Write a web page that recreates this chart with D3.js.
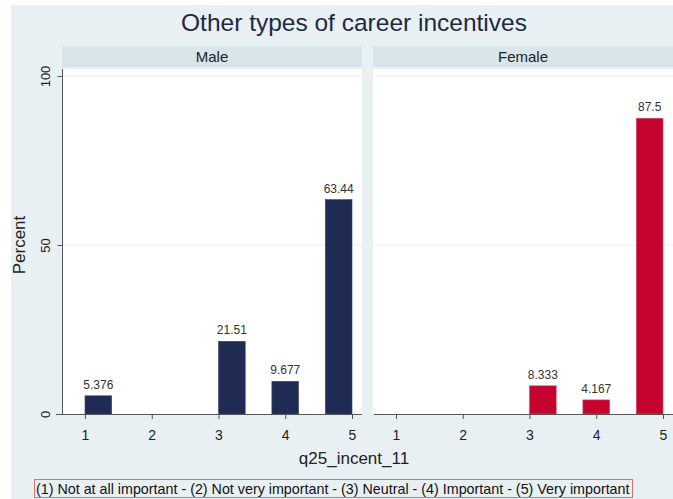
<!DOCTYPE html>
<html>
<head>
<meta charset="utf-8">
<script src="https://cdn.jsdelivr.net/npm/d3@7"></script>
<style>
  html, body { margin: 0; padding: 0; background: #ffffff; }
  svg { display: block; font-family: "Liberation Sans", Arial, sans-serif; }
</style>
</head>
<body>
<svg id="chart" width="673" height="499"></svg>
<script>
// ---- Data ----
const chartTitle = "Other types of career incentives";
const panelNames = ["Male", "Female"];
const categories = [1, 2, 3, 4, 5];
const maleValues = [5.376, 0, 21.51, 9.677, 63.44];
const femaleValues = [0, 0, 8.333, 4.167, 87.5];
const seriesValues = [maleValues, femaleValues];
const valueLabels = [["5.376", "", "21.51", "9.677", "63.44"], ["", "", "8.333", "4.167", "87.5"]];
const yTicks = [0, 50, 100];
const xTickLabels = ["1", "2", "3", "4", "5"];
const yTitle = "Percent";
const xTitle = "q25_incent_11";
const noteText = "(1) Not at all important - (2) Not very important - (3) Neutral - (4) Important - (5) Very important";
const nBins = 10;

// ---- Layout / style ----
const svg = d3.select("#chart");
const bgColor = "#e9f0f3";
const stripColor = "#d8e5eb";
const gridColor = "#e9f0f3";
const barColors = ["#1f2b53", "#c5032f"];
const axisColor = "#555555";

svg.append("rect").attr("x", 11).attr("y", 5).attr("width", 662).attr("height", 494).attr("fill", bgColor);

svg.append("text").attr("x", 354).attr("y", 31).attr("text-anchor", "middle")
  .attr("font-size", 24.5).attr("fill", "#1c2a44").text(chartTitle);

const panelX = [62, 373];
const panelW = 300;
const plotTop = 69, plotBottom = 414;
const y = d3.scaleLinear().domain([0, 100]).range([414, 76]);

panelNames.forEach((name, pi) => {
  const px = panelX[pi];
  const g = svg.append("g");
  // strip
  g.append("rect").attr("x", px).attr("y", 46).attr("width", panelW).attr("height", 21).attr("fill", stripColor);
  g.append("text").attr("x", px + panelW / 2).attr("y", 62).attr("text-anchor", "middle")
    .attr("font-size", 15).attr("fill", "#222").text(name);
  // plot region
  g.append("rect").attr("x", px).attr("y", plotTop).attr("width", panelW).attr("height", plotBottom - plotTop).attr("fill", "#ffffff");

  const x = d3.scaleLinear().domain([d3.min(categories), d3.max(categories)]).range([px + 23, px + 290]);
  const binW = (d3.max(categories) - d3.min(categories)) / nBins;

  // gridlines
  g.selectAll("line.grid").data(yTicks.filter(t => t > 0)).enter().append("line")
    .attr("x1", px).attr("x2", px + panelW).attr("y1", d => y(d)).attr("y2", d => y(d))
    .attr("stroke", gridColor).attr("stroke-width", 1.2);

  // bars
  const vals = seriesValues[pi];
  const bars = categories.map((c, i) => {
    let b = Math.floor((c - d3.min(categories)) / binW);
    if (b >= nBins) b = nBins - 1;
    const x0 = d3.min(categories) + b * binW;
    return { c, v: vals[i], x0, x1: x0 + binW, label: valueLabels[pi][i] };
  }).filter(d => d.v > 0);

  g.selectAll("rect.bar").data(bars).enter().append("rect")
    .attr("x", d => x(d.x0)).attr("width", d => x(d.x1) - x(d.x0))
    .attr("y", d => y(d.v)).attr("height", d => y(0) - y(d.v))
    .attr("fill", barColors[pi]).attr("stroke", pi === 0 ? "#3a4566" : "#d04a66").attr("stroke-width", 0.6);

  g.selectAll("text.val").data(bars).enter().append("text")
    .attr("x", d => (x(d.x0) + x(d.x1)) / 2).attr("y", d => y(d.v) - 7)
    .attr("text-anchor", "middle").attr("font-size", 12).attr("fill", "#333").text(d => d.label);

  // x axis
  const xAxis = d3.axisBottom(x).tickValues(categories).tickFormat((d, i) => xTickLabels[i]).tickSize(5).tickSizeOuter(0);
  const xg = g.append("g").attr("transform", `translate(0,${plotBottom})`).call(xAxis);
  xg.select(".domain").remove();
  xg.append("line").attr("x1", pi === 0 ? 56 : px + 1).attr("x2", px + panelW).attr("y1", 0.5).attr("y2", 0.5)
    .attr("stroke", axisColor).attr("stroke-width", 1);
  xg.selectAll(".tick line").attr("stroke", axisColor);
  xg.selectAll(".tick text").attr("font-size", 14).attr("fill", "#222").attr("font-family", "Liberation Sans, Arial, sans-serif").attr("dy", "1.25em");

  // y axis on first panel only
  if (pi === 0) {
    const yAxis = d3.axisLeft(y).tickValues(yTicks).tickSize(5).tickSizeOuter(0);
    const yg = g.append("g").attr("transform", `translate(${px + 0.5},0)`).call(yAxis);
    yg.select(".domain").attr("stroke", axisColor).attr("d", `M0,${y(100) - 7}V${plotBottom}`);
    yg.selectAll(".tick line").attr("stroke", axisColor);
    yg.selectAll(".tick text").attr("font-size", 13).attr("fill", "#222").attr("font-family", "Liberation Sans, Arial, sans-serif")
      .attr("x", 0).attr("dy", 0).attr("text-anchor", "middle")
      .attr("transform", "translate(-13,0) rotate(-90)");
  }
});

// axis titles
svg.append("text").attr("transform", "translate(25,245) rotate(-90)").attr("text-anchor", "middle")
  .attr("font-size", 17).attr("fill", "#222").text(yTitle);
svg.append("text").attr("x", 354).attr("y", 464).attr("text-anchor", "middle")
  .attr("font-size", 17).attr("fill", "#222").text(xTitle);

// note box
const note = svg.append("text").attr("x", 36).attr("y", 494).attr("font-size", 13).attr("fill", "#111").text(noteText);
const targetW = 594;
const w0 = note.node().getComputedTextLength();
note.attr("font-size", 13 * targetW / w0);
svg.append("rect").attr("x", 34.5).attr("y", 479.5).attr("width", 598).attr("height", 18)
  .attr("fill", "none").attr("stroke", "#e07070").attr("stroke-width", 1);
</script>
</body>
</html>
